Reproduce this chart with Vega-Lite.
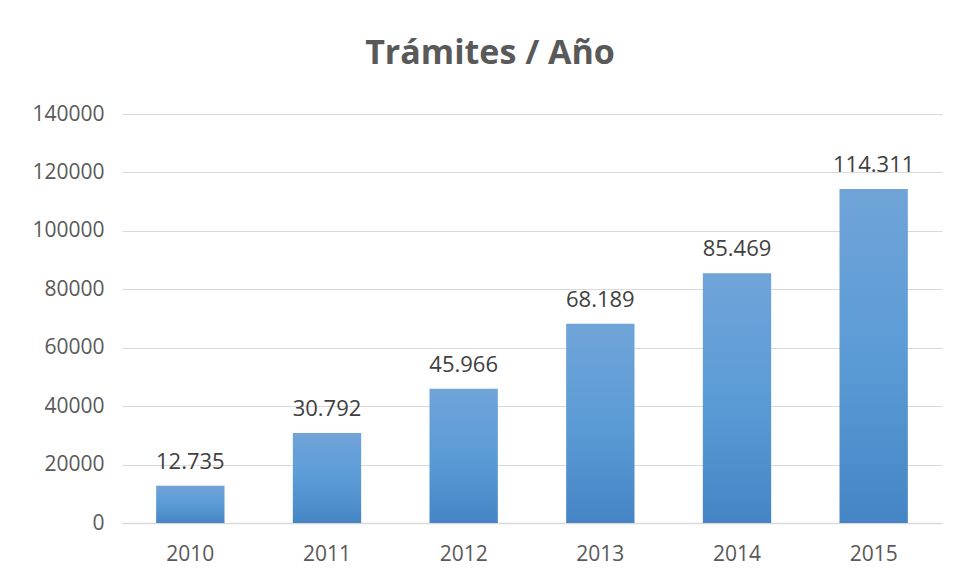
{
  "$schema": "https://vega.github.io/schema/vega-lite/v6.json",
  "width": 820,
  "height": 409,
  "autosize": {"type": "none"},
  "padding": {"left": 122, "top": 114, "right": 19, "bottom": 58},
  "background": "white",
  "config": {
    "view": {"stroke": null},
    "locale": {"number": {"decimal": ",", "thousands": ".", "grouping": [3], "currency": ["", " €"]}},
    "font": "Open Sans"
  },
  "title": {
    "text": "Trámites / Año",
    "font": "Open Sans",
    "fontSize": 34,
    "fontWeight": "bold",
    "color": "#595959",
    "anchor": "middle",
    "frame": "group",
    "dx": -42,
    "baseline": "alphabetic",
    "offset": 5
  },
  "data": {
    "values": [
      {"year": "2010", "value": 12735},
      {"year": "2011", "value": 30792},
      {"year": "2012", "value": 45966},
      {"year": "2013", "value": 68189},
      {"year": "2014", "value": 85469},
      {"year": "2015", "value": 114311}
    ]
  },
  "encoding": {
    "x": {
      "field": "year",
      "type": "nominal",
      "sort": null,
      "scale": {"paddingInner": 0.5, "paddingOuter": 0.25},
      "axis": {
        "title": null,
        "labelAngle": 0,
        "labelFontSize": 21,
        "labelColor": "#595959",
        "labelPadding": 20,
        "ticks": false,
        "domainColor": "#d9d9d9",
        "domainWidth": 1.5
      }
    },
    "y": {
      "field": "value",
      "type": "quantitative",
      "scale": {"domain": [0, 140000], "nice": false},
      "axis": {
        "title": null,
        "values": [0, 20000, 40000, 60000, 80000, 100000, 120000, 140000],
        "format": "d",
        "labelFontSize": 21,
        "labelColor": "#595959",
        "labelPadding": 18,
        "ticks": false,
        "domain": false,
        "gridColor": "#d9d9d9",
        "gridWidth": 1
      }
    }
  },
  "layer": [
    {
      "mark": {
        "type": "bar",
        "color": {
          "gradient": "linear",
          "x1": 0, "y1": 0, "x2": 0, "y2": 1,
          "stops": [
            {"offset": 0, "color": "#70a4d9"},
            {"offset": 0.5, "color": "#5b9bd5"},
            {"offset": 1, "color": "#4585c5"}
          ]
        }
      }
    },
    {
      "mark": {"type": "text", "baseline": "alphabetic", "dy": -17, "fontSize": 22, "color": "#404040"},
      "encoding": {
        "text": {"field": "value", "type": "quantitative", "format": ","}
      }
    }
  ]
}
